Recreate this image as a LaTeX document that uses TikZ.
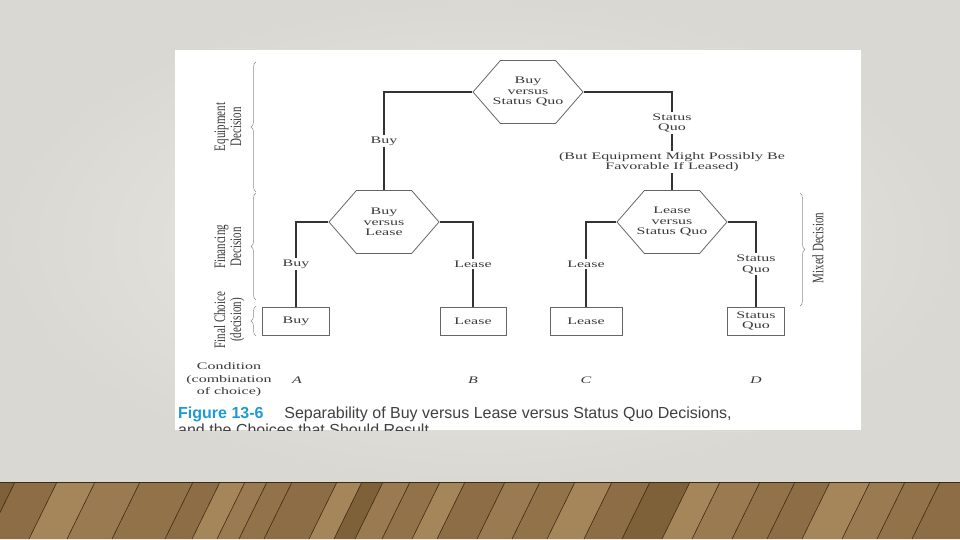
\documentclass[tikz,border=0pt]{standalone}
\usepackage{fontspec}
\setmainfont{Liberation Serif}[FakeStretch=1.6]
\newfontfamily\rotfont{Liberation Serif}
\newfontfamily\capfont{Liberation Sans}
\usetikzlibrary{shapes.symbols,decorations.pathreplacing}
\definecolor{bgin}{HTML}{EDEBE7}
\definecolor{bgout}{HTML}{DAD8D2}
\definecolor{txt}{HTML}{3A3A3A}
\definecolor{captxt}{HTML}{404040}
\definecolor{lin}{HTML}{333333}
\definecolor{figblue}{HTML}{1E9AD6}
\definecolor{w1}{HTML}{8C6D45}
\definecolor{w2}{HTML}{9A7A50}
\definecolor{w3}{HTML}{7E6039}
\definecolor{w4}{HTML}{A5855A}
\definecolor{w5}{HTML}{927248}
\definecolor{plank}{HTML}{3E2A16}
\newcommand{\lbl}{\fontsize{10}{10.5}\selectfont}
\tikzset{
  hexa/.style={signal, signal to=east and west, signal pointer angle=98,
    draw=black!60, line width=0.8pt, fill=white, minimum width=110pt,
    minimum height=63pt, inner ysep=0pt, inner xsep=-8pt, align=center, font=\lbl, text=txt},
  choice/.style={draw=black!60, line width=0.8pt, minimum height=28pt,
    align=center, inner sep=1pt, font=\lbl, text=txt},
  lab/.style={fill=white, inner sep=1.5pt, align=center, font=\lbl, text=txt},
  conn/.style={draw=lin, line width=1.6pt},
  brc/.style={decorate, decoration={brace, amplitude=5pt}, draw=black!45, line width=0.5pt},
  rotlab/.style={inner sep=0pt, text=txt, font=\rotfont\fontsize{11}{11}\selectfont},
  cond/.style={align=center, inner sep=0pt, text=txt, font=\fontsize{10}{12.5}\selectfont},
}
\begin{document}
\begin{tikzpicture}[x=1pt,y=-1pt]
\useasboundingbox (0,0) rectangle (960,540);
% slide background
\fill[bgout] (0,0) rectangle (960,540);
\shade[inner color=bgin, outer color=bgout] (0,0) rectangle (960,482);
% wooden floor
\fill[w1] (0,482) rectangle (960,539);
\foreach \a/\b/\c in {-30/15/w3, 15/57/w1, 57/95/w4, 95/140/w2, 140/193/w5, 193/220/w1,
  220/245/w4, 245/267/w2, 267/292/w5, 292/337/w1, 337/362/w4, 362/383/w3, 383/410/w2,
  410/440/w5, 440/465/w4, 465/505/w1, 505/540/w2, 540/575/w5, 575/612/w4, 612/650/w1,
  650/690/w3, 690/720/w4, 720/760/w2, 760/795/w5, 795/830/w1, 830/870/w4, 870/905/w2,
  905/940/w5, 940/990/w1} {
  \fill[\c] (\a,482) -- (\b,482) -- (\b-28,539) -- (\a-28,539) -- cycle;
  \draw[plank, line width=0.6pt] (\a,482) -- (\a-28,539);
}
\draw[plank, line width=1.6pt] (0,482.5) -- (960,482.5);
\fill[bgin] (0,539) rectangle (960,540);
% figure panel
\fill[white] (175,50) rectangle (861,430);
\begin{scope}
\clip (175,50) rectangle (861,430);
% decision nodes
\node[hexa] (h1) at (528,92) {Buy\\versus\\Status Quo};
\node[hexa] (h2) at (384,222) {Buy\\versus\\Lease};
\node[hexa] (h3) at (672,222) {Lease\\versus\\Status Quo};
% final choices
\node[choice, minimum width=67pt] (bbuy) at (296,321) {Buy};
\node[choice, minimum width=66pt] (blease) at (473,321) {Lease};
\node[choice, minimum width=72pt] (blease2) at (586,321) {Lease};
\node[choice, minimum width=57pt] (bsq) at (756,321) {Status\\Quo};
% labels on the right branch of the top decision
\node[lab] (sq1) at (672,123) {Status\\Quo};
\node[lab] (but) at (672,162) {(But Equipment Might Possibly Be\\Favorable If Leased)};
% connectors
\draw[conn] (h1.west) -| node[lab, pos=0.75] (lbuy) {Buy} (h2.north);
\draw[conn] (h1.east) -| (sq1.north);
\draw[conn] (sq1) -- (but);
\draw[conn] (but) -- (h3.north);
\draw[conn] (h2.west) -| node[lab, pos=0.75] (lbuy2) {Buy} (bbuy.north);
\draw[conn] (h2.east) -| node[lab, pos=0.75] (llease) {Lease} (blease.north);
\draw[conn] (h3.west) -| node[lab, pos=0.75] (llease2) {Lease} (blease2.north);
\draw[conn] (h3.east) -| node[lab, pos=0.75] (lsq) {Status\\Quo} (bsq.north);
% braces and their labels
\draw[brc] (256,192) -- (256,62);
\draw[brc] (256,300) -- (256,193);
\draw[brc] (256,336) -- (256,306);
\draw[brc] (800,193) -- (800,306);
\node[rotlab] (eq) at (230,127) {\scalebox{1.45}[1]{\rotatebox{90}{\begin{tabular}{@{}c@{}}Equipment\\Decision\end{tabular}}}};
\node[rotlab] (fin) at (230,247) {\scalebox{1.45}[1]{\rotatebox{90}{\begin{tabular}{@{}c@{}}Financing\\Decision\end{tabular}}}};
\node[rotlab] (fc) at (230,320) {\scalebox{1.45}[1]{\rotatebox{90}{\begin{tabular}{@{}c@{}}Final Choice\\(decision)\end{tabular}}}};
\node[rotlab] (mix) at (818,248) {\scalebox{1.45}[1]{\rotatebox{90}{Mixed Decision}}};
% conditions
\node[cond] (cnd) at (229,380) {Condition\\(combination\\of choice)};
\node[cond] (ca) at (297,380) {\itshape A};
\node[cond] (cb) at (473,380) {\itshape B};
\node[cond] (cc) at (586,380) {\itshape C};
\node[cond] (cd) at (756,380) {\itshape D};
% caption
\node[anchor=base west, align=left, inner sep=0pt, text=captxt,
  font=\capfont\fontsize{16}{17}\selectfont] (cap) at (178,435)
  {\textcolor{figblue}{\bfseries Figure 13-6}\hspace{1.3em}Separability of Buy versus Lease versus Status Quo Decisions,\\and the Choices that Should Result};
\end{scope}
\end{tikzpicture}
\end{document}
